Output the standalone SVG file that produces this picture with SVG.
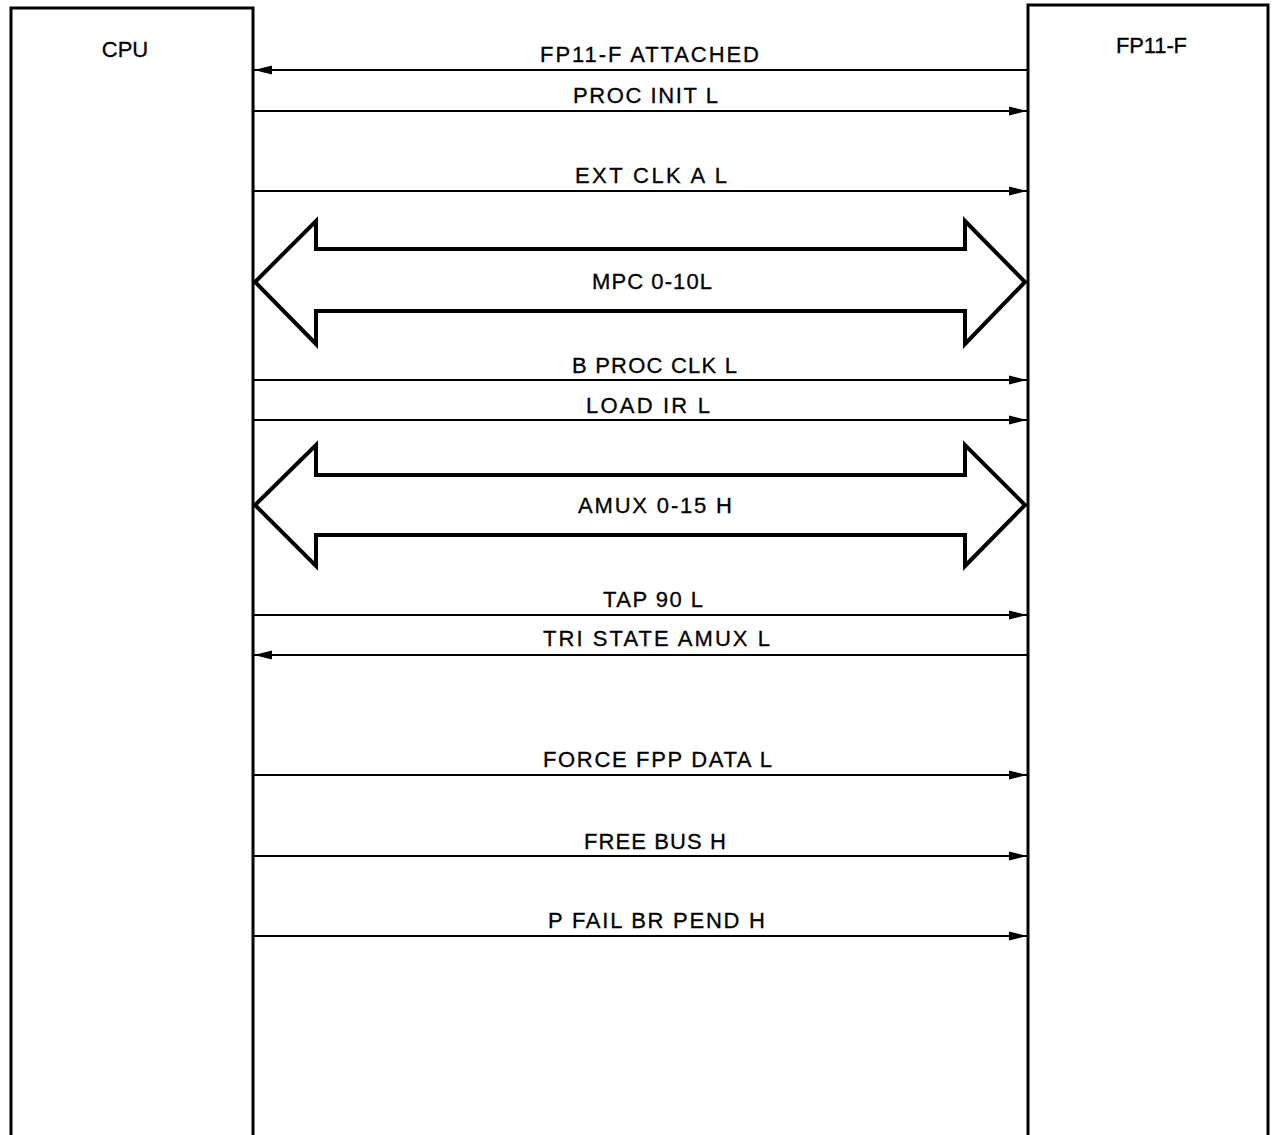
<svg xmlns="http://www.w3.org/2000/svg" width="1272" height="1135" viewBox="0 0 1272 1135">
<style>
.box{fill:none;stroke:#000;stroke-width:3}
.sig{stroke:#000;stroke-width:2;fill:none}
.bus{fill:none;stroke:#000;stroke-width:4;stroke-linejoin:miter}
text{font-family:"Liberation Sans",Arial,sans-serif;font-size:22px;fill:#000;stroke:#000;stroke-width:0.3}
.c{text-anchor:middle}
</style>
<defs>
<marker id="ah" viewBox="0 0 18 10" refX="18" refY="5" markerWidth="18" markerHeight="10" markerUnits="userSpaceOnUse" orient="auto">
<path d="M0,0.5 L18,5 L0,9.5 Z" fill="#000"/>
</marker>
</defs>
<rect width="1272" height="1135" fill="#fff"/>
<g id="cpu">
<rect class="box" x="11" y="8" width="242" height="1140"/>
<text class="c" x="125" y="57">CPU</text>
</g>
<g id="fp11f">
<rect class="box" x="1028" y="5" width="240" height="1140"/>
<text x="1116" y="53" textLength="71" lengthAdjust="spacing">FP11-F</text>
</g>
<g id="connectors">
<line class="sig" x1="1028" y1="70" x2="254" y2="70" marker-end="url(#ah)"/>
<text x="540" y="62" textLength="219" lengthAdjust="spacing">FP11-F ATTACHED</text>
<line class="sig" x1="253" y1="111" x2="1027" y2="111" marker-end="url(#ah)"/>
<text x="573" y="103" textLength="145" lengthAdjust="spacing">PROC INIT L</text>
<line class="sig" x1="253" y1="191" x2="1027" y2="191" marker-end="url(#ah)"/>
<text x="575" y="183" textLength="152" lengthAdjust="spacing">EXT CLK A L</text>
<path class="bus" d="M255,282 L316,221 L316,249 L965,249 L965,221 L1025,282 L965,344 L965,311 L316,311 L316,344 Z"/>
<text x="592" y="289" textLength="120" lengthAdjust="spacing">MPC 0-10L</text>
<line class="sig" x1="253" y1="380" x2="1027" y2="380" marker-end="url(#ah)"/>
<text x="572" y="373" textLength="165" lengthAdjust="spacing">B PROC CLK L</text>
<line class="sig" x1="253" y1="420" x2="1027" y2="420" marker-end="url(#ah)"/>
<text x="586" y="413" textLength="124" lengthAdjust="spacing">LOAD IR L</text>
<path class="bus" d="M255,505 L316,445 L316,475 L965,475 L965,445 L1025,505 L965,566 L965,535 L316,535 L316,566 Z"/>
<text x="578" y="513" textLength="154" lengthAdjust="spacing">AMUX 0-15 H</text>
<line class="sig" x1="253" y1="615" x2="1027" y2="615" marker-end="url(#ah)"/>
<text x="603" y="607" textLength="100" lengthAdjust="spacing">TAP 90 L</text>
<line class="sig" x1="1028" y1="655" x2="254" y2="655" marker-end="url(#ah)"/>
<text x="543" y="646" textLength="227" lengthAdjust="spacing">TRI STATE AMUX L</text>
<line class="sig" x1="253" y1="775" x2="1027" y2="775" marker-end="url(#ah)"/>
<text x="543" y="767" textLength="229" lengthAdjust="spacing">FORCE FPP DATA L</text>
<line class="sig" x1="253" y1="856" x2="1027" y2="856" marker-end="url(#ah)"/>
<text x="584" y="849" textLength="142" lengthAdjust="spacing">FREE BUS H</text>
<line class="sig" x1="253" y1="936" x2="1027" y2="936" marker-end="url(#ah)"/>
<text x="548" y="928" textLength="217" lengthAdjust="spacing">P FAIL BR PEND H</text>
</g>
</svg>
